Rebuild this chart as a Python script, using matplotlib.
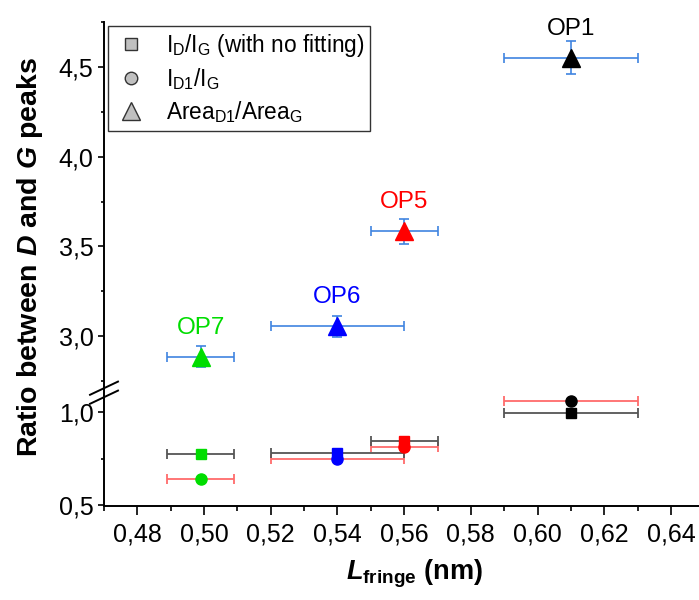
import matplotlib.pyplot as plt
from matplotlib.lines import Line2D
from matplotlib.ticker import MultipleLocator

plt.rcParams['font.family'] = ['Liberation Sans', 'DejaVu Sans']
plt.rcParams['mathtext.fontset'] = 'custom'
plt.rcParams['mathtext.rm'] = 'Liberation Sans'
plt.rcParams['mathtext.it'] = 'Liberation Sans:italic:bold'
plt.rcParams['mathtext.bf'] = 'Liberation Sans:bold'

# Samples (OP7, OP6, OP5, OP1)
samples = ['OP7', 'OP6', 'OP5', 'OP1']
colors = ['#00dd00', '#0000ff', '#ff0000', '#000000']
l_fringe = [0.499, 0.54, 0.56, 0.61]
l_fringe_err = [0.01, 0.02, 0.01, 0.02]

# Area_D1 / Area_G
area_ratio = [2.887, 3.056, 3.585, 4.552]
area_err = [0.057, 0.058, 0.07, 0.09]

# I_D / I_G (no fitting) and I_D1 / I_G
id_ig = [0.777, 0.782, 0.845, 0.993]
id1_ig = [0.642, 0.747, 0.813, 1.060]

fig = plt.figure(figsize=(6.99, 6.0), dpi=100)
left = 104 / 699
ax_top = fig.add_axes([left, 212 / 600, 1 - left, 366 / 600])
ax_bot = fig.add_axes([left, 94.5 / 600, 1 - left, 117.5 / 600], sharex=ax_top)

ax_top.set_ylim(2.712, 4.75)
ax_bot.set_ylim(0.5, 1.128)
ax_bot.set_xlim(0.47, 0.6484)

# Top part: area ratio triangles
for x, xe, y, ye, c, s in zip(l_fringe, l_fringe_err, area_ratio, area_err, colors, samples):
    ax_top.errorbar(x, y, xerr=xe, yerr=ye, fmt='none', ecolor='#3f84e0',
                    elinewidth=1.2, capsize=3.5, capthick=1.2, zorder=2)
    ax_top.plot(x, y, marker='^', ms=13.5, color=c, mec=c, ls='none', zorder=3)
    ax_top.annotate(s, (x, y), xytext=(0, 16.5), textcoords='offset points',
                    ha='center', va='baseline', fontsize=17.5, color=c)

# Bottom part: intensity ratios
for x, xe, y1, y2, c in zip(l_fringe, l_fringe_err, id_ig, id1_ig, colors):
    ax_bot.errorbar(x, y2, xerr=xe, fmt='none', ecolor='#ff6b6b', elinewidth=1.3,
                    capsize=3.5, capthick=1.3, zorder=2)
    ax_bot.errorbar(x, y1, xerr=xe, fmt='none', ecolor='#555555', elinewidth=1.3,
                    capsize=3.5, capthick=1.3, zorder=2)
    ax_bot.plot(x, y2, marker='o', ms=8, color=c, mec=c, ls='none', zorder=3)
    ax_bot.plot(x, y1, marker='s', ms=7.5, color=c, mec=c, ls='none', zorder=3)

comma1 = plt.FuncFormatter(lambda v, p: f'{v:.1f}'.replace('.', ','))
for ax in (ax_top, ax_bot):
    ax.spines['top'].set_visible(False)
    ax.spines['right'].set_visible(False)
    ax.spines['left'].set_linewidth(1.4)
    ax.yaxis.set_major_locator(MultipleLocator(0.5))
    ax.yaxis.set_minor_locator(MultipleLocator(0.25))
    ax.yaxis.set_major_formatter(comma1)
    ax.tick_params(axis='y', which='major', length=4, width=1.2, labelsize=18)
    ax.tick_params(axis='y', which='minor', length=2.5, width=1.2)

ax_top.spines['bottom'].set_visible(False)
ax_top.tick_params(axis='x', which='both', bottom=False, labelbottom=False)

ax_bot.spines['bottom'].set_linewidth(1.4)
ax_bot.xaxis.set_major_locator(MultipleLocator(0.02))
ax_bot.xaxis.set_minor_locator(MultipleLocator(0.01))
ax_bot.xaxis.set_major_formatter(plt.FuncFormatter(lambda v, p: f'{v:.2f}'.replace('.', ',')))
ax_bot.tick_params(axis='x', which='major', length=6.5, width=1.2, labelsize=18, pad=6)
ax_bot.tick_params(axis='x', which='minor', length=3.3, width=1.2)

# break marks on the y axis
yb = 207 / 600
for dy in (-0.007, 0.008):
    fig.add_artist(Line2D([left - 0.02, left + 0.02], [yb + dy - 0.011, yb + dy + 0.011],
                          color='black', lw=1.4, transform=fig.transFigure))

# legend
handles = [
    Line2D([], [], marker='s', ms=8, mfc='#c0c0c0', mec='#333333', ls='none'),
    Line2D([], [], marker='o', ms=9, mfc='#c0c0c0', mec='#333333', ls='none'),
    Line2D([], [], marker='^', ms=13, mfc='#c0c0c0', mec='#333333', ls='none'),
]
labels = [r'$\mathrm{I_D/I_G}$ (with no fitting)', r'$\mathrm{I_{D1}/I_G}$',
          r'$\mathrm{Area_{D1}/Area_G}$']
fig.legend(handles, labels, loc='upper left', bbox_to_anchor=(108 / 699, 1 - 26 / 600),
           bbox_transform=fig.transFigure, borderaxespad=0, fontsize=16.3, frameon=True,
           fancybox=False, edgecolor='#333333', framealpha=1, handlelength=1.5,
           handletextpad=0.8, labelspacing=0.32, borderpad=0.25)

fig.text(30 / 699, 1 - 257 / 600, r'Ratio between $\mathit{D}$ and $\mathit{G}$ peaks',
         rotation=90, ha='center', va='center', fontsize=20.5, fontweight='bold')
fig.text(414 / 699, 1 - 574 / 600, r'$\mathit{L}_{\mathbf{fringe}}$ (nm)',
         ha='center', va='center', fontsize=19.5, fontweight='bold')

plt.savefig('out.png', dpi=100)
